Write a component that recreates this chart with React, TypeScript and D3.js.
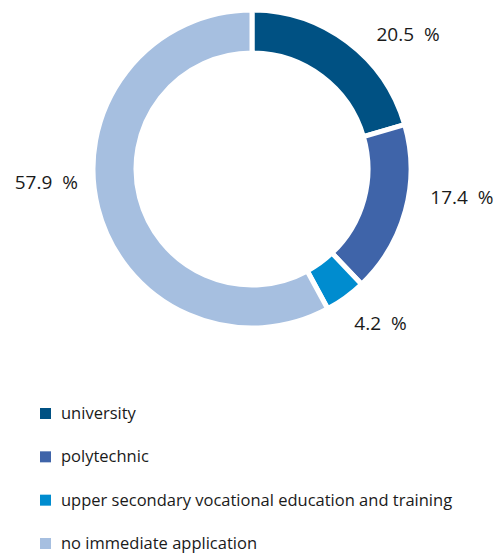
import React, { useEffect, useRef } from 'react';
import * as d3 from 'd3';

const categories = [
  'university',
  'polytechnic',
  'upper secondary vocational education and training',
  'no immediate application',
];
const values = [20.5, 17.4, 4.2, 57.9];
const colors = ['#005183', '#3f64a9', '#008ccf', '#a6bfe0'];
// nudges of each label from its slice's mid-angle on the label ring
const labelNudge: [number, number][] = [[33, 31], [12, -24], [8, -10], [-7, -35]];

const App = () => {
  const svgRef = useRef<SVGSVGElement>(null);

  useEffect(() => {
    const svg = d3.select(svgRef.current);
    svg.selectAll('*').remove();

    const cx = 252, cy = 169;
    const outer = 159, inner = 116;

    const g = svg.append('g').attr('transform', `translate(${cx},${cy})`);

    const pie = d3.pie<number>().sort(null).value(d => d);
    const arcs = pie(values);
    const arc = d3.arc<d3.PieArcDatum<number>>().innerRadius(inner).outerRadius(outer);
    const labelArc = d3.arc<d3.PieArcDatum<number>>().innerRadius(205).outerRadius(205);

    g.selectAll('path')
      .data(arcs)
      .enter()
      .append('path')
      .attr('d', arc)
      .attr('fill', (d, i) => colors[i])
      .attr('stroke', '#fff')
      .attr('stroke-width', 5);

    g.selectAll('text.lbl')
      .data(arcs)
      .enter()
      .append('text')
      .attr('class', 'lbl')
      .attr('x', (d, i) => labelArc.centroid(d)[0] + labelNudge[i][0])
      .attr('y', (d, i) => labelArc.centroid(d)[1] + labelNudge[i][1])
      .attr('text-anchor', 'middle')
      .attr('dominant-baseline', 'middle')
      .style('white-space', 'pre')
      .style('font-family', '"Open Sans", sans-serif')
      .style('font-size', '19px')
      .attr('fill', '#1a1a1a')
      .text(d => `${d.data.toFixed(1)}  %`);

    const y = d3.scalePoint<string>().domain(categories).range([413.5, 543.5]);

    const legend = svg.append('g');
    const rows = legend.selectAll('g')
      .data(categories)
      .enter()
      .append('g')
      .attr('transform', d => `translate(40,${y(d)})`);

    rows.append('rect')
      .attr('x', 0)
      .attr('y', -5.5)
      .attr('width', 11)
      .attr('height', 11)
      .attr('fill', (d, i) => colors[i]);

    rows.append('text')
      .attr('x', 21)
      .attr('y', 1)
      .attr('dominant-baseline', 'middle')
      .style('font-family', '"Open Sans", sans-serif')
      .style('font-size', '16.5px')
      .attr('fill', '#1a1a1a')
      .text(d => d);
  }, []);

  return (
    <svg
      ref={svgRef}
      width={497}
      height={554}
      style={{ position: 'absolute', left: 0, top: 0 }}
    ></svg>
  );
};

export default App;
